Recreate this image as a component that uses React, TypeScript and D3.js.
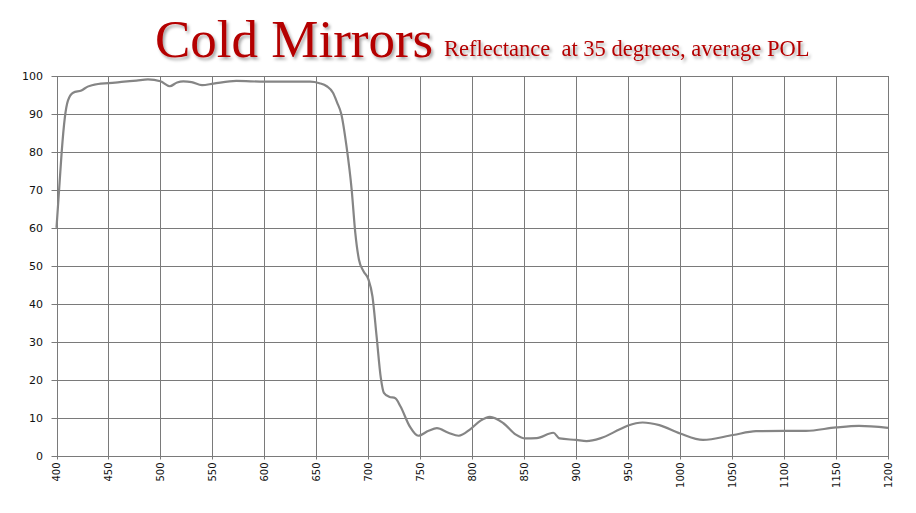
import {default as React, useEffect, useRef} from "react";
import * as d3 from "d3";

const wavelengths: number[] = [
    400, 403, 405, 408, 411, 416, 424, 430, 440, 450, 465, 477, 488, 500, 509, 516, 522, 530, 540, 551,
    573, 600, 620, 644, 653, 660, 666, 670, 674, 679, 684, 687.5, 691, 695.5, 700, 704, 708, 712, 715, 720,
    726, 731, 740, 748, 758, 766, 777, 787, 798, 808, 817, 830, 842, 851, 862, 878, 884, 900, 910, 923,
    942, 950, 964, 980, 1000, 1022, 1051, 1073, 1100, 1121, 1150, 1172, 1200
];

const reflectance: number[] = [
    60, 72, 80, 89, 93.5, 95.6, 96.2, 97.2, 97.9, 98.1, 98.5, 98.8, 99.1, 98.6, 97.3, 98.3, 98.6, 98.4, 97.6, 98.0,
    98.7, 98.5, 98.5, 98.5, 98.1, 97.3, 95.6, 93, 90, 81.5, 70, 58.6, 51.6, 48.5, 46.5, 41.9, 31.3, 20.5, 16.5, 15.5,
    15.1, 12.9, 7.6, 5.2, 6.5, 7.2, 6.0, 5.2, 6.9, 9.2, 10.2, 8.5, 5.5, 4.5, 4.6, 6.0, 4.5, 4.1, 3.8, 4.5,
    6.9, 7.9, 8.7, 8.0, 5.8, 4.1, 5.4, 6.4, 6.5, 6.5, 7.4, 7.8, 7.3
];

const xTicks: number[] = d3.range(400, 1201, 50);
const yTicks: number[] = d3.range(0, 101, 10);

const title = "Cold Mirrors";
const subtitle = "Reflectance  at 35 degrees, average POL";

const margin = {
    top: 76,
    bottom: 57.5,
    left: 56.5,
    right: 28
};

export default function App() {

    const width = 916;
    const height = 513;

    const containerRef = useRef<SVGSVGElement>(null);

    useEffect(
        () => {
            updatePlot();
        },
        []
    );

    function updatePlot() {
        const svg = d3.select(containerRef.current);
        svg.selectAll("*").remove();

        const xScale = d3.scaleLinear()
            .domain([400, 1200])
            .range([margin.left, width - margin.right]);

        const yScale = d3.scaleLinear()
            .domain([0, 100])
            .range([height - margin.bottom, margin.top]);

        const defs = svg.append("defs");
        defs.append("filter")
            .attr("id", "shadow")
            .attr("x", "-5%").attr("y", "-20%")
            .attr("width", "110%").attr("height", "150%")
            .append("feDropShadow")
            .attr("dx", 2).attr("dy", 2.5)
            .attr("stdDeviation", 1.5)
            .attr("flood-color", "#000")
            .attr("flood-opacity", 0.35);

        // grid
        const grid = svg.append("g").attr("stroke", "#7a7a7a").attr("stroke-width", 1);
        grid.selectAll("line.v")
            .data(xTicks)
            .join("line")
            .attr("class", "v")
            .attr("x1", d => Math.round(xScale(d)) + 0.5)
            .attr("x2", d => Math.round(xScale(d)) + 0.5)
            .attr("y1", yScale(100))
            .attr("y2", yScale(0) + 4);
        grid.selectAll("line.h")
            .data(yTicks)
            .join("line")
            .attr("class", "h")
            .attr("x1", xScale(400) - 5)
            .attr("x2", xScale(1200))
            .attr("y1", d => Math.round(yScale(d)) + 0.5)
            .attr("y2", d => Math.round(yScale(d)) + 0.5);

        // y labels
        svg.append("g")
            .selectAll("text")
            .data(yTicks)
            .join("text")
            .attr("x", 43)
            .attr("y", d => yScale(d) + 4)
            .attr("text-anchor", "end")
            .attr("font-family", "DejaVu Sans")
            .attr("font-size", 11)
            .attr("fill", "#111")
            .text(d => d);

        // x labels, rotated
        svg.append("g")
            .selectAll("text")
            .data(xTicks)
            .join("text")
            .attr("transform", d => `translate(${xScale(d) + 3.5},${yScale(0) + 7}) rotate(-90)`)
            .attr("text-anchor", "end")
            .attr("font-family", "DejaVu Sans")
            .attr("font-size", 10)
            .attr("fill", "#111")
            .text(d => d);

        const data: [number, number][] = wavelengths.map((w, i) => [w, reflectance[i]]);

        svg.append("path")
            .datum(data)
            .attr("fill", "none")
            .attr("stroke", "#858585")
            .attr("stroke-width", 2.2)
            .attr("stroke-linejoin", "round")
            .attr("d", d3.line()
                .curve(d3.curveMonotoneX)
                .x(d => xScale(d[0]))
                .y(d => yScale(d[1]))
            );

        svg.append("text")
            .attr("x", 155)
            .attr("y", 57)
            .attr("font-family", "Liberation Serif")
            .attr("font-size", 53)
            .attr("fill", "#b40000")
            .attr("filter", "url(#shadow)")
            .text(title);

        svg.append("text")
            .attr("x", 444)
            .attr("y", 56)
            .attr("font-family", "Liberation Serif")
            .attr("font-size", 22.5)
            .attr("fill", "#b40000")
            .attr("filter", "url(#shadow)")
            .style("white-space", "pre")
            .text(subtitle);
    }

    return (
        <svg
            width={width}
            height={height}
            style={{backgroundColor: "white", position: "absolute", left: 0, top: 0}}
            ref={containerRef}
        />
    );
}
